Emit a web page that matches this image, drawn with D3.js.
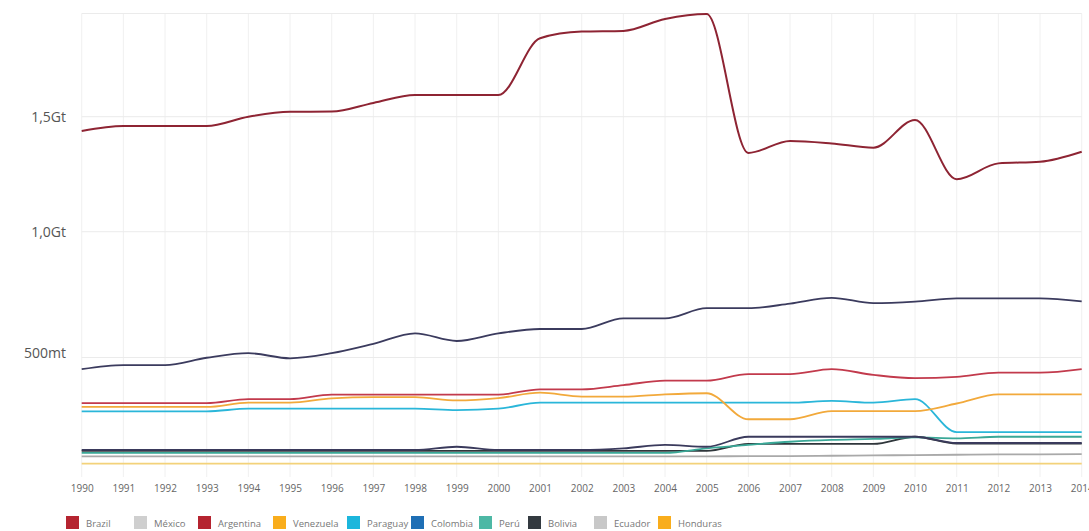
<!DOCTYPE html>
<html>
<head>
<meta charset="utf-8">
<script src="https://cdn.jsdelivr.net/npm/d3@7"></script>
<style>
  html, body { margin: 0; padding: 0; background: #fff; }
  svg { display: block; font-family: "Open Sans", "Noto Sans", sans-serif; }
</style>
</head>
<body>
<svg id="chart" width="1089" height="531"></svg>
<script>
// ---- data (million tonnes) ----
const years = d3.range(1990, 2015);
const countries = ["Brazil","México","Argentina","Venezuela","Paraguay","Colombia","Perú","Bolivia","Ecuador","Honduras"];
const legendColors = ["#b52430","#cfcfcf","#b52430","#f9ad1c","#1cb6dc","#1f6fb5","#4db8a5","#333a40","#c8c8c8","#f9ad1c"];
const lineColors   = ["#8e2433","#3b3b5e","#c23a4c","#f2a93b","#2ab6d9","#3a3a5c","#3aa897","#2f363b","#a9a9a9","#f3d27a"];

const brazil    = [1436,1458,1458,1458,1500,1522,1523,1562,1598,1598,1598,1859,1890,1893,1949,1972,1339,1392,1381,1362,1485,1224,1293,1300,1344];
const mexico    = [457,472,472,499,516,497,516,551,591,562,591,608,608,649,649,689,689,707,730,709,715,728,728,728,716];
const argentina = [335,335,335,335,349,349,365,365,365,365,365,384,384,399,415,415,439,439,457,436,424,429,444,444,457];
const venezuela = [322,322,322,322,337,337,352,356,356,345,353,372,358,358,366,370,280,280,308,308,308,334,366,366,366];
const paraguay  = [307,307,307,307,316,316,316,316,316,311,316,337,337,337,337,337,337,337,343,337,349,237,237,237,237];
const colombia  = [180,180,180,180,180,180,180,180,180,190,180,180,180,185,196,190,222,222,222,222,222,202,202,202,202];
const peru      = [171,171,171,171,171,171,171,171,171,171,171,171,171,171,171,185,196,206,212,215,220,217,222,222,222];
const bolivia   = [177,177,177,177,177,177,177,177,177,177,177,177,177,177,177,177,199,199,199,199,222,200,200,200,200];
const ecuador   = [160,160,160,160,160,160,160,160,160,160,160,160,160,160,160,160,161,161,162,163,164,165,166,166,167];
const honduras  = [138,138,138,138,138,138,138,138,138,138,138,138,138,138,138,138,138,138,138,138,138,138,138,138,138];
const seriesValues = [brazil, mexico, argentina, venezuela, paraguay, colombia, peru, bolivia, ecuador, honduras];

const yTickValues = [500, 1000, 1500];
const yTickLabels = ["500mt", "1,0Gt", "1,5Gt"];

// ---- layout ----
const svg = d3.select("#chart");
const plotTop = 13.5, plotBottom = 477;
const x = d3.scaleLinear().domain([1990, 2014]).range([81.7, 1081.7]);
const y = d3.scalePow().exponent(0.83).domain([0, 1500]).range([519.2, 116.7]);

// vertical grid
svg.append("g").selectAll("line").data(years).join("line")
  .attr("x1", d => x(d)).attr("x2", d => x(d))
  .attr("y1", plotTop).attr("y2", plotBottom)
  .attr("stroke", "#f0f0f0").attr("stroke-width", 1);

// horizontal grid
svg.append("g").selectAll("line").data([y.invert(plotTop), ...yTickValues]).join("line")
  .attr("x1", x(1990)).attr("x2", x(2014))
  .attr("y1", d => y(d)).attr("y2", d => y(d))
  .attr("stroke", "#ebebeb").attr("stroke-width", 1);

// y axis
const yAxis = d3.axisLeft(y).tickValues(yTickValues)
  .tickFormat((d, i) => yTickLabels[i]).tickSize(0).tickPadding(0);
const yg = svg.append("g").attr("transform", "translate(66,0)").call(yAxis);
yg.select(".domain").remove();
yg.selectAll("text").attr("font-size", 14).attr("fill", "#555")
  .attr("font-family", "'Open Sans', sans-serif")
  .attr("dy", d => d === 500 ? "-0.03em" : "0.32em");

// x axis
const xAxis = d3.axisBottom(x).tickValues(years).tickFormat(d3.format("d")).tickSize(0).tickPadding(0);
const xg = svg.append("g").attr("transform", "translate(0,485)").call(xAxis);
xg.select(".domain").remove();
xg.selectAll("text").attr("font-size", 10).attr("fill", "#666")
  .attr("font-family", "'Open Sans', sans-serif");

// lines
const line = d3.line().x((d, i) => x(years[i])).y(d => y(d)).curve(d3.curveMonotoneX);
const order = d3.range(countries.length).reverse();
svg.append("g").selectAll("path").data(order).join("path")
  .attr("d", i => line(seriesValues[i]))
  .attr("fill", "none")
  .attr("stroke", i => lineColors[i])
  .attr("stroke-width", i => i === 0 ? 2 : 1.8)
  .attr("stroke-linejoin", "round");

// legend
const legendX = [66, 134, 198, 273, 347, 411, 479, 528, 594, 658];
const lg = svg.append("g");
const items = lg.selectAll("g").data(countries).join("g")
  .attr("transform", (d, i) => `translate(${legendX[i]},516)`);
items.append("rect").attr("width", 13).attr("height", 13)
  .attr("fill", (d, i) => legendColors[i]);
items.append("text").attr("x", 20).attr("y", 10.5)
  .attr("font-size", 9.5).attr("fill", "#777")
  .attr("font-family", "'Open Sans', sans-serif")
  .text(d => d);
</script>
</body>
</html>
